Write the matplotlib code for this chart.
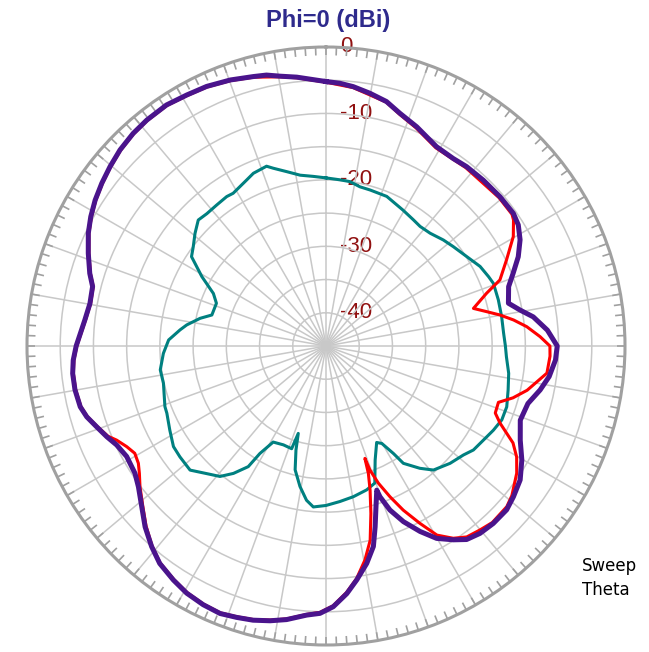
import numpy as np
import matplotlib
matplotlib.use('Agg')
import matplotlib.pyplot as plt

# Диаграмма направленности, Phi=0 (углы theta в градусах, уровни в dBi)
purple_theta = [0, 3, 6, 9.9, 13.9, 17.6, 22.5, 29, 34.2, 38.1, 43.5, 49.4, 54.7,
                57.8, 61.3, 65.1, 68.8, 72, 76.8, 79.5, 82, 85.9, 90, 93.5, 97.8,
                101.6, 105.9, 110.9, 115.9, 120.2, 124.6, 128.8, 132.2, 136.7, 140.6,
                144, 146.7, 150.1, 153.1, 156.2, 158.7, 160.3, 160.6, 162.7, 164.8,
                166.7, 169.4, 172.5, 175.2, 178.4, 181.3, 184.1, 188.2, 191.5, 194.9,
                198.2, 201.6, 205.4, 209.4, 213.1, 217.4, 221, 225, 228.9, 233.1,
                236.3, 241, 244.7, 247.5, 250.6, 253.5, 256.1, 260.1, 263.8, 266.8,
                270, 276.2, 280.2, 284.3, 287.1, 291.3, 295.4, 298.8, 302.3, 306,
                309.7, 313.6, 317.8, 321.6, 326.5, 331, 335.3, 340.2, 344.9, 347.6,
                350.3, 353.8, 360]
purple_db = [-5.2, -5.4, -5.75, -6.4, -7.1, -8.25, -9.3, -10.7, -10.9, -10.7, -10.6,
             -10.5, -10.45, -10.8, -11.7, -13.1, -14.8, -16.1, -16.8, -15.3, -13.5,
             -11.6, -10.2, -10.4, -11.1, -12.1, -13.4, -13.7, -12.5, -10.9, -9.5,
             -8.8, -8.3, -8.3, -8.5, -9.0, -10.1, -11.6, -13.7, -16.1, -18.5, -20.9,
             -22.0, -19.7, -16.8, -14.0, -11.7, -9.5, -7.6, -5.75, -4.75, -4.4, -3.4,
             -2.8, -2.3, -2.0, -1.7, -1.9, -2.3, -2.95, -3.8, -5.0, -6.5, -8.2, -9.7,
             -10.45, -10.7, -10.15, -9.3, -8.4, -7.45, -6.9, -6.65, -6.65, -6.9,
             -7.4, -8.5, -8.9, -8.75, -7.8, -6.6, -5.4, -4.6, -3.9, -3.3, -2.75,
             -2.2, -1.8, -1.6, -1.5, -1.8, -2.0, -2.45, -3.0, -3.25, -3.8, -4.3, -5.2]

red_theta = [0, 6, 13.9, 17.6, 22.5, 29, 38.1, 49.4, 54.7, 56.1, 59.7, 64.5, 69.2,
             71.8, 75.7, 77.9, 79.9, 82.1, 84.5, 87.5, 90, 92.6, 97, 102.4, 105.5,
             108.1, 111.6, 113.9, 117.4, 120.2, 123.7, 128.8, 131.6, 136.7, 140.1,
             143.6, 146.5, 149.6, 152.1, 154.8, 157, 159.1, 160.5, 160.9, 161.6, 163,
             165, 167.2, 169.7, 172.5, 175.2, 178.4, 181.3, 184.1, 188.2, 191.5,
             194.9, 198.2, 201.6, 205.4, 209.4, 213.1, 217.4, 221, 225, 228.9, 232.9,
             235.7, 238, 240.7, 243.2, 245.8, 247.5, 250.6, 253.5, 256.1, 260.1,
             263.8, 266.8, 270, 276.2, 280.2, 284.3, 287.1, 291.3, 295.4, 298.8,
             302.3, 306, 309.7, 313.6, 317.8, 321.6, 326.5, 331, 335.3, 340.2, 344.9,
             350.3, 353.8, 360]
red_db = [-5.3, -5.9, -7.2, -8.4, -9.5, -10.9, -10.9, -10.7, -10.7, -11.0, -12.35,
          -14.9, -17.0, -19.55, -22.1, -20.3, -18.4, -16.5, -14.65, -12.75, -11.3,
          -11.25, -11.5, -14.0, -15.8, -17.7, -17.6, -16.35, -13.3, -11.8, -10.5,
          -9.1, -8.6, -8.5, -8.9, -9.3, -10.3, -12.0, -14.8, -17.7, -20.35, -22.9,
          -25.2, -27.1, -24.8, -22.3, -18.9, -15.0, -12.25, -9.7, -7.8, -5.9, -4.9,
          -4.5, -3.5, -2.9, -2.4, -2.1, -1.8, -2.0, -2.4, -3.05, -3.9, -5.1, -6.7,
          -8.4, -9.9, -11.0, -11.7, -12.0, -11.4, -10.45, -9.5, -8.5, -7.55, -7.0,
          -6.75, -6.75, -7.0, -7.5, -8.6, -9.0, -8.85, -7.9, -6.7, -5.5, -4.7, -4.0,
          -3.4, -2.85, -2.3, -1.9, -1.7, -1.6, -1.9, -2.1, -2.55, -3.1, -3.9, -4.4,
          -5.3]

teal_theta = [0, 4.8, 8.3, 12, 15.8, 22.1, 29.6, 34.7, 38.2, 42.7, 47.9, 52, 57.6,
              62.7, 66.9, 69.5, 75, 80.5, 85.9, 90, 93.4, 98.5, 103.6, 108.6, 112.8,
              116.7, 120.9, 125.2, 128.4, 133.4, 139.1, 142.5, 146.6, 147.9, 150.2,
              152.3, 156.7, 160.4, 164.2, 169.7, 174.9, 180, 184.5, 187.2, 190.5, 194,
              196.1, 197.6, 198.5, 203.3, 208.8, 211.6, 212.8, 216, 219.1, 223.1,
              227.6, 232.8, 236.6, 241.7, 247.1, 249.4, 257.1, 261.8, 267.4, 272.2,
              276.3, 278.6, 282.4, 285.2, 291.3, 295, 299.2, 303.6, 306.8, 310.7,
              314.6, 318, 322.2, 326.4, 328.7, 334.5, 337.2, 341.7, 343.5, 347.3,
              351.4, 355.7, 360]
teal_db = [-19.7, -19.9, -20.0, -20.5, -20.6, -20.7, -21.5, -21.9, -22.1, -21.9,
           -21.2, -20.7, -19.9, -18.9, -18.4, -18.1, -18.15, -18.2, -18.2, -18.0,
           -17.8, -17.2, -16.8, -16.3, -16.3, -16.8, -17.4, -17.85, -18.6, -19.3,
           -20.3, -21.8, -23.85, -25.9, -28.1, -28.6, -26.3, -23.1, -22.5, -21.95,
           -21.5, -21.0, -20.7, -21.6, -23.5, -25.8, -28.7, -31.2, -28.7, -28.8,
           -28.5, -26.0, -23.4, -21.3, -19.7, -18.7, -17.3, -17.4, -17.5, -18.3,
           -19.0, -19.1, -19.9, -19.8, -20.5, -21.3, -22.9, -23.8, -25.6, -27.2,
           -27.3, -26.3, -23.6, -20.7, -20.05, -19.0, -18.0, -18.2, -18.15, -18.0,
           -18.1, -17.3, -16.8, -16.5, -17.1, -18.1, -19.0, -19.4, -19.7]

r_labels = [0, -10, -20, -30, -40]
r_minor = [-35, -25, -15]

fig = plt.figure(figsize=(6.49, 6.52), dpi=100)
ax = fig.add_axes([27 / 649, 7 / 652, 598 / 649, 598 / 652], projection='polar')
ax.set_theta_zero_location('N')
ax.set_theta_direction(-1)
ax.set_rlim(-45, 0)

# сетка
ax.set_thetagrids(np.arange(0, 360, 10), labels=[])
ax.set_rgrids(np.arange(-40, 0, 5), labels=[])
ax.grid(color='#c8c8c8', linewidth=1.1)
ax.tick_params(axis='both', which='major', length=0)
ax.set_rlabel_position(0)
ax.set_yticks(r_minor, minor=True)
ax.tick_params(axis='y', which='minor', length=6, width=2, direction='inout',
               color='#a8a8a8')
ax.spines['polar'].set_color('#a0a0a0')
ax.spines['polar'].set_linewidth(2.2)

# засечки по краю через 2 градуса
tick_deg = np.arange(0, 360, 2)
ax.vlines(np.deg2rad(tick_deg), -1.25, 0, color='#a0a0a0', linewidth=1.2, zorder=2)

for v in r_labels:
    ax.annotate(str(v), xy=(0, v), xytext=(14, 0), textcoords='offset pixels',
                ha='left', va='center', fontsize=16, color='#901010',
                family='Liberation Sans', annotation_clip=False, zorder=1)

# кривые
ax.plot(np.deg2rad(teal_theta), teal_db, color='#008080', linewidth=2.2, zorder=3)
ax.plot(np.deg2rad(red_theta), red_db, color='#ff0000', linewidth=2.2, zorder=4)
ax.plot(np.deg2rad(purple_theta), purple_db, color='#4a148c', linewidth=3.6, zorder=5)

fig.text(328 / 649, 1 - 20 / 652, 'Phi=0 (dBi)', ha='center', va='center',
         fontsize=17, fontweight='bold', color='#2e2a8c', family='Liberation Sans')
fig.text(582 / 649, 1 - 566 / 652, 'Sweep', ha='left', va='center', fontsize=12)
fig.text(582 / 649, 1 - 590 / 652, 'Theta', ha='left', va='center', fontsize=12)

fig.savefig('out.png', dpi=100)
